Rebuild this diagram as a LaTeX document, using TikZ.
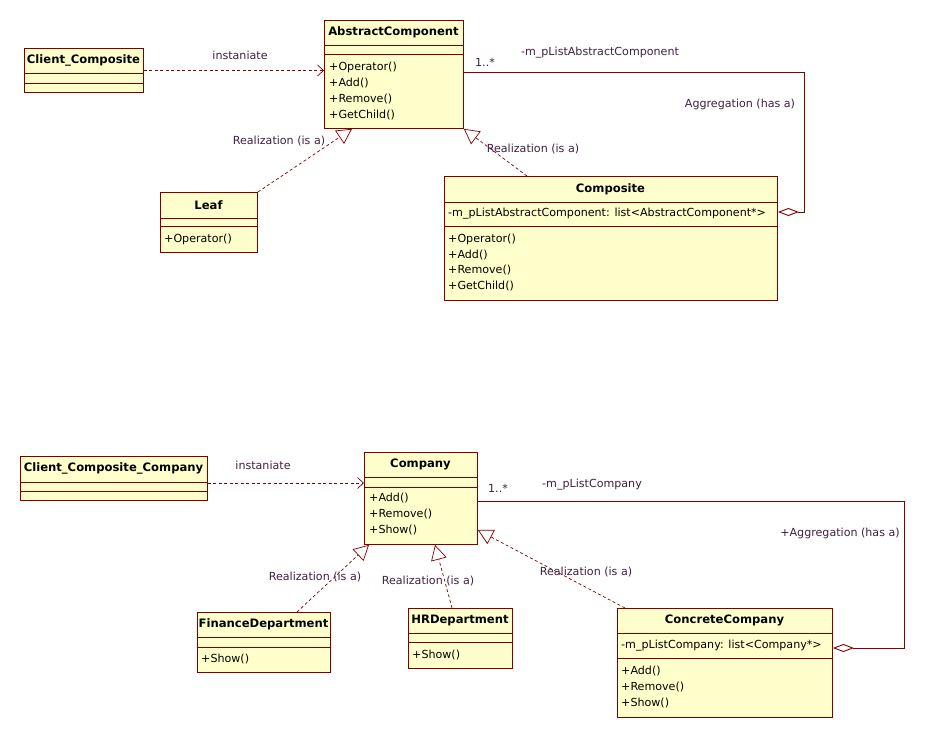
\documentclass[tikz,border=0pt]{standalone}
\usepackage{fontspec}
\setmainfont{DejaVu Sans}
\usetikzlibrary{arrows.meta}
\definecolor{umlfill}{RGB}{255,255,204}
\definecolor{umlline}{RGB}{128,0,0}
\definecolor{lblcol}{RGB}{64,32,64}
\tikzset{
 cls/.style={draw=umlline, fill=umlfill, line width=0.9pt, inner sep=0pt, anchor=north west},
 ttl/.style={font=\fontsize{11.6}{13}\selectfont\bfseries, inner sep=0pt, text=black},
 mem/.style={font=\fontsize{11.1}{13}\selectfont, inner sep=0pt, anchor=west, text=black},
 lbl/.style={font=\fontsize{11.1}{13}\selectfont, inner sep=0pt, text=lblcol},
 sep/.style={draw=umlline, line width=0.9pt},
 dep/.style={draw=umlline, dash pattern=on 3pt off 2.5pt, line width=0.7pt, -{Straight Barb[length=6pt,width=11pt]}},
 real/.style={draw=umlline, dash pattern=on 3pt off 2.5pt, line width=0.7pt, -{Triangle[open,length=15pt,width=16pt,fill=white]}},
 agg/.style={draw=umlline, line width=0.9pt, {Diamond[open,length=21pt,width=8pt,fill=white]}-},
}
\newcommand\hsep[2]{\draw[sep] ([yshift=-#2pt]#1.north west) -- ([yshift=-#2pt]#1.north east);}
\begin{document}
\begin{tikzpicture}[x=1pt,y=-1pt]
\useasboundingbox[fill=white] (0,0) rectangle (925,737);

% ---------- top diagram ----------
\node[cls, minimum width=119pt, minimum height=44pt] (cc) at (24,48) {};
\hsep{cc}{25}\hsep{cc}{35}
\node[ttl] (cct) at (83.5,60.5) {Client\_Composite};

\node[cls, minimum width=139pt, minimum height=108pt] (ac) at (324,20) {};
\hsep{ac}{25}\hsep{ac}{34}
\node[ttl] (act) at (393.5,32.5) {AbstractComponent};
\node[mem] (ac1) at (329,67) {+Operator()};
\node[mem] (ac2) at (329,83) {+Add()};
\node[mem] (ac3) at (329,99) {+Remove()};
\node[mem] (ac4) at (329,115) {+GetChild()};

\node[cls, minimum width=333pt, minimum height=124pt] (comp) at (444,176) {};
\hsep{comp}{26}\hsep{comp}{50}
\node[ttl] (compt) at (610.5,189) {Composite};
\node[mem] (compa) at (448,213.5) {-m\_pListAbstractComponent: list<AbstractComponent*>};
\node[mem] (comp1) at (448,239) {+Operator()};
\node[mem] (comp2) at (448,255) {+Add()};
\node[mem] (comp3) at (448,270.5) {+Remove()};
\node[mem] (comp4) at (448,286) {+GetChild()};

\node[cls, minimum width=97pt, minimum height=60pt] (leaf) at (160,192) {};
\hsep{leaf}{26}\hsep{leaf}{34}
\node[ttl] (leaft) at (208.5,205) {Leaf};
\node[mem] (leaf1) at (164,239.5) {+Operator()};

\draw[dep] (cc.east) -- (cc.east -| ac.west);
\node[lbl] (l1) at (240,55) {instaniate};

\draw[agg] ([yshift=-36pt]comp.north east) -- ++(27,0) |- ([yshift=-52pt]ac.north east);
\node[lbl] (l2) at (485,62) {1..*};
\node[lbl] (l3) at (600,52.5) {-m\_pListAbstractComponent};
\node[lbl] (l4) at (740,104.5) {Aggregation (has a)};

\draw[real] (leaf.north east) -- ([xshift=28pt]ac.south west);
\node[lbl] (l5) at (279,141) {Realization (is a)};
\draw[real] ([xshift=83pt]comp.north west) -- (ac.south east);
\node[lbl] (l6) at (533,149) {Realization (is a)};

% ---------- bottom diagram ----------
\node[cls, minimum width=187pt, minimum height=44pt] (ccc) at (20,456) {};
\hsep{ccc}{26}\hsep{ccc}{35}
\node[ttl] (ccct) at (113.5,468.5) {Client\_Composite\_Company};

\node[cls, minimum width=113pt, minimum height=92pt] (co) at (364,452) {};
\hsep{co}{25}\hsep{co}{35}
\node[ttl] (cot) at (420.5,464.5) {Company};
\node[mem] (co1) at (369,498) {+Add()};
\node[mem] (co2) at (369,514) {+Remove()};
\node[mem] (co3) at (369,530) {+Show()};

\node[cls, minimum width=133pt, minimum height=60pt] (fd) at (197,612) {};
\hsep{fd}{25}\hsep{fd}{35}
\node[ttl] (fdt) at (263.5,624.5) {FinanceDepartment};
\node[mem] (fd1) at (201,659) {+Show()};

\node[cls, minimum width=104pt, minimum height=60pt] (hr) at (408,608) {};
\hsep{hr}{25}\hsep{hr}{34}
\node[ttl] (hrt) at (460,620.5) {HRDepartment};
\node[mem] (hr1) at (412,655) {+Show()};

\node[cls, minimum width=215pt, minimum height=109pt] (cco) at (617,608) {};
\hsep{cco}{25}\hsep{cco}{50}
\node[ttl] (ccot) at (724.5,620.5) {ConcreteCompany};
\node[mem] (ccoa) at (621,645.5) {-m\_pListCompany: list<Company*>};
\node[mem] (cco1) at (621,671) {+Add()};
\node[mem] (cco2) at (621,687) {+Remove()};
\node[mem] (cco3) at (621,703) {+Show()};

\draw[dep] ([yshift=-27pt]ccc.north east) -- ([yshift=-27pt]ccc.north east -| co.west);
\node[lbl] (l7) at (263,465) {instaniate};

\draw[agg] ([yshift=-40pt]cco.north east) -- ++(72,0) |- ([yshift=-49pt]co.north east);
\node[lbl] (l8) at (498,488) {1..*};
\node[lbl] (l9) at (592,485) {-m\_pListCompany};
\node[lbl] (l10) at (840,533) {+Aggregation (has a)};

\draw[real] ([xshift=100pt]fd.north west) -- ([xshift=5pt]co.south west);
\node[lbl] (l11) at (315,577) {Realization (is a)};
\draw[real] ([xshift=44pt]hr.north west) -- ([xshift=71pt]co.south west);
\node[lbl] (l12) at (428,581) {Realization (is a)};
\draw[real] ([xshift=8pt]cco.north west) -- ([yshift=-78pt]co.north east);
\node[lbl] (l13) at (586,572) {Realization (is a)};
\end{tikzpicture}
\end{document}
